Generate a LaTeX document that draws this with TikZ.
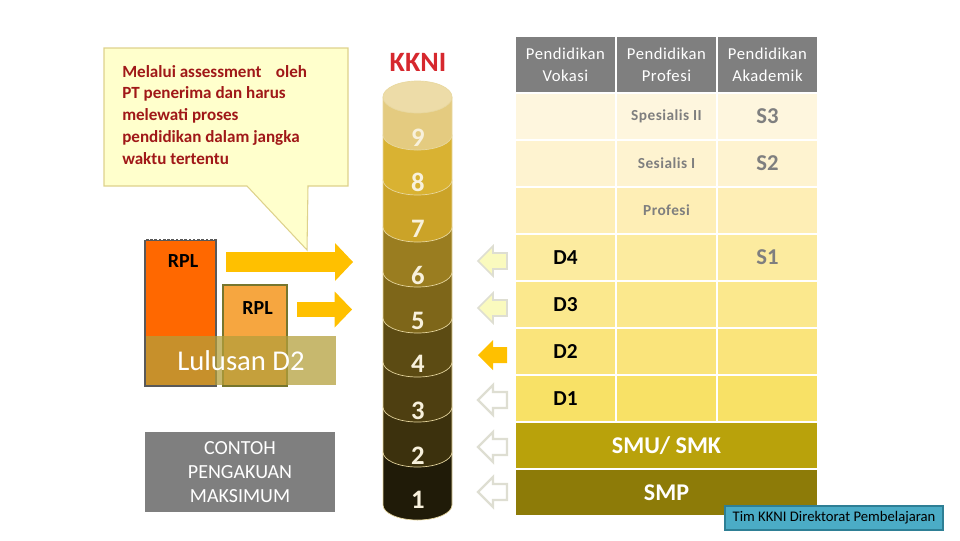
\documentclass[tikz,border=0pt]{standalone}
\usepackage{fontspec}
\setmainfont{Carlito}
\newfontfamily\spacedfont[LetterSpace=3]{Carlito}
\usetikzlibrary{arrows.meta,positioning}
\definecolor{notefill}{RGB}{255,255,204}
\definecolor{noteline}{RGB}{222,210,140}
\definecolor{notetext}{RGB}{160,24,24}
\definecolor{rplorange}{RGB}{255,104,0}
\definecolor{rpllight}{RGB}{246,166,64}
\definecolor{rplline}{RGB}{118,118,46}
\definecolor{bandcol}{RGB}{180,159,59}
\definecolor{arrowcol}{RGB}{255,192,0}
\definecolor{kknired}{RGB}{214,40,46}
\definecolor{greybox}{RGB}{127,127,127}
\definecolor{capcol}{RGB}{237,220,168}
\definecolor{lv9}{RGB}{228,203,128}
\definecolor{lv8}{RGB}{217,178,50}
\definecolor{lv7}{RGB}{203,163,40}
\definecolor{lv6}{RGB}{154,125,32}
\definecolor{lv5}{RGB}{126,102,25}
\definecolor{lv4}{RGB}{92,75,19}
\definecolor{lv3}{RGB}{78,63,17}
\definecolor{lv2}{RGB}{60,49,13}
\definecolor{lv1}{RGB}{32,27,8}
\definecolor{segline}{RGB}{232,216,160}
\definecolor{lvtext}{RGB}{248,241,220}
\definecolor{rowa}{RGB}{254,246,222}
\definecolor{rowb}{RGB}{254,243,208}
\definecolor{rowc}{RGB}{254,238,181}
\definecolor{rowd}{RGB}{252,235,159}
\definecolor{rowe}{RGB}{251,232,141}
\definecolor{rowf}{RGB}{250,228,123}
\definecolor{rowg}{RGB}{248,225,102}
\definecolor{smucol}{RGB}{185,162,11}
\definecolor{smpcol}{RGB}{141,123,8}
\definecolor{palearrow}{RGB}{250,250,190}
\definecolor{arrowline}{RGB}{222,222,210}
\definecolor{footfill}{RGB}{75,172,198}
\definecolor{footline}{RGB}{46,127,149}

\begin{document}
\begin{tikzpicture}[
    x=0.75pt, y=-0.75pt,
    lvnum/.style={text=lvtext,font=\fontsize{20}{24}\selectfont\bfseries,inner sep=0pt},
    hdr/.style={rectangle,fill=greybox,minimum width=74.25pt,minimum height=41.25pt,
                inner sep=0pt,align=center,text=white,font=\spacedfont\fontsize{12.5}{16.5}\selectfont},
    cell/.style={rectangle,minimum width=74.25pt,minimum height=33.75pt,inner sep=0pt},
    wide/.style={rectangle,minimum width=225.75pt,minimum height=33.75pt,inner sep=0pt,
                 text=white,font=\fontsize{18}{21}\selectfont\bfseries},
    proftext/.style={text=greybox,font=\spacedfont\fontsize{11.5}{13}\selectfont\bfseries},
    stext/.style={text=greybox,font=\fontsize{17}{20}\selectfont\bfseries},
    dtext/.style={text=black,font=\fontsize{16}{19}\selectfont\bfseries},
    rpltext/.style={text=black,font=\fontsize{15}{18}\selectfont\bfseries},
    bigarrow/.style={draw=arrowcol,line width=#1},
    seg/.style={draw=segline,line width=0.5pt},
    larrow/.pic={\path[pic actions] (0,0) -- (15,-15) -- (15,-8) -- (29,-8) -- (29,8)
                 -- (15,8) -- (15,15) -- cycle;},
    pale/.style={fill=palearrow,draw=arrowline,line width=1.2pt},
    hollow/.style={fill=white,draw=arrowline,line width=1.8pt},
    active/.style={fill=arrowcol}
]
    \useasboundingbox (0,0) rectangle (960,540);

    \draw[fill=notefill,draw=noteline,line width=0.8pt] (104,48) -- (348,48) -- (348,186)
        -- (308,186) -- (307,250) -- (247,186) -- (104,186) -- cycle;
    \node[anchor=north west,align=left,inner sep=0pt,text=notetext,
          font=\fontsize{12.8}{16.3}\selectfont\bfseries] (note) at (122,65)
        {Melalui assessment\hspace{8pt} oleh\\PT penerima dan harus\\melewati proses\\
         pendidikan dalam jangka\\waktu tertentu};

    \node[rectangle,fill=rplorange,draw=black!65,line width=1.1pt,minimum width=53.25pt,
          minimum height=109.5pt,inner sep=0pt] (rplbig) at (180.5,313) {};
    \draw[white,line width=1.2pt,dotted] (rplbig.north west) -- (rplbig.north east);
    \node[rpltext] (rpl1) at ([xshift=2pt,yshift=-16.5pt]rplbig.north) {RPL};
    \node[rectangle,fill=rpllight,draw=rplline,line width=1.1pt,minimum width=48pt,
          minimum height=75.75pt,inner sep=0pt] (rplsmall) at (255,335.5) {};
    \node[rpltext] (rpl2) at ([xshift=2pt,yshift=-18pt]rplsmall.north) {RPL};
    \node[rectangle,fill=bandcol,fill opacity=0.74,text opacity=1,text=white,
          minimum width=142.5pt,minimum height=36.75pt,inner sep=0pt,
          font=\fontsize{21.5}{24}\selectfont] (lulusan) at (241,360.5) {Lulusan D2};

    \node[rectangle,fill=greybox,text=white,align=center,minimum width=142.5pt,
          minimum height=60pt,inner sep=0pt,font=\fontsize{15}{18}\selectfont]
        (contoh) at (240,472) {CONTOH\\PENGAKUAN\\MAKSIMUM};

    \coordinate (a1s) at (226,262);
    \coordinate (a1e) at (353,262);
    \coordinate (a2s) at (297,309.5);
    \coordinate (a2e) at (352,309.5);
    \draw[bigarrow=15pt,-{Triangle[length=13.5pt,width=28.5pt,line width'=0pt]}] (a1s) -- (a1e);
    \draw[bigarrow=11.25pt,-{Triangle[length=13pt,width=27pt,line width'=0pt]}] (a2s) -- (a2e);

    \node[text=kknired,font=\fontsize{21}{24}\selectfont\bfseries] (kkni) at (418,62) {KKNI};
    \foreach \n/\t/\b/\col in {1/452/505/lv1,2/407/452/lv2,3/362/407/lv3,4/318/362/lv4,
                               5/272/318/lv5,6/227/272/lv6,7/180/227/lv7,8/135/180/lv8,
                               9/97/135/lv9}
        \draw[seg,fill=\col] (383,\t) -- (383,\b)
            arc[start angle=180,end angle=0,x radius=34.5,y radius=15] -- (452,\t) -- cycle;
    \draw[seg,fill=capcol] (417.5,97) ellipse[x radius=34.5,y radius=16];
    \foreach \n/\y in {9/138,8/182,7/229,6/275,5/321,4/364,3/411,2/456,1/500}
        \node[lvnum] (lv\n) at (418,\y) {\n};

    \pic[pale] at (478,261) {larrow};
    \pic[pale] at (478,308) {larrow};
    \pic[active] at (478,355) {larrow};
    \pic[hollow] at (478,400) {larrow};
    \pic[hollow] at (478,447) {larrow};
    \pic[hollow] at (478,492) {larrow};

    \foreach \c/\x/\t in {1/565.5/Vokasi,2/666.5/Profesi,3/767.5/Akademik}
        \node[hdr] (h\c) at (\x,64.5) {Pendidikan\\\t};
    \foreach \r/\y/\col in {1/116.5/rowa,2/163.5/rowb,3/210.5/rowc,4/257.5/rowd,
                            5/304.5/rowe,6/351.5/rowf,7/398.5/rowg}
        \foreach \c/\x in {1/565.5,2/666.5,3/767.5}
            \node[cell,fill=\col] (c\r\c) at (\x,\y) {};
    \node[proftext] at (c12) {Spesialis II};
    \node[stext] at (c13) {S3};
    \node[proftext] at (c22) {Sesialis I};
    \node[stext] at (c23) {S2};
    \node[proftext] at (c32) {Profesi};
    \node[dtext] at (c41) {D4};
    \node[stext] at (c43) {S1};
    \node[dtext] at (c51) {D3};
    \node[dtext] at (c61) {D2};
    \node[dtext] at (c71) {D1};
    \node[wide,fill=smucol] (smu) at (666.5,445.5) {SMU/ SMK};
    \node[wide,fill=smpcol] (smp) at (666.5,492.5) {SMP};

    \node[rectangle,fill=footfill,draw=footline,line width=1.2pt,minimum width=163.5pt,
          minimum height=18pt,inner sep=0pt,font=\fontsize{11}{13}\selectfont]
        (tim) at (834,518) {Tim KKNI Direktorat Pembelajaran};
\end{tikzpicture}
\end{document}
